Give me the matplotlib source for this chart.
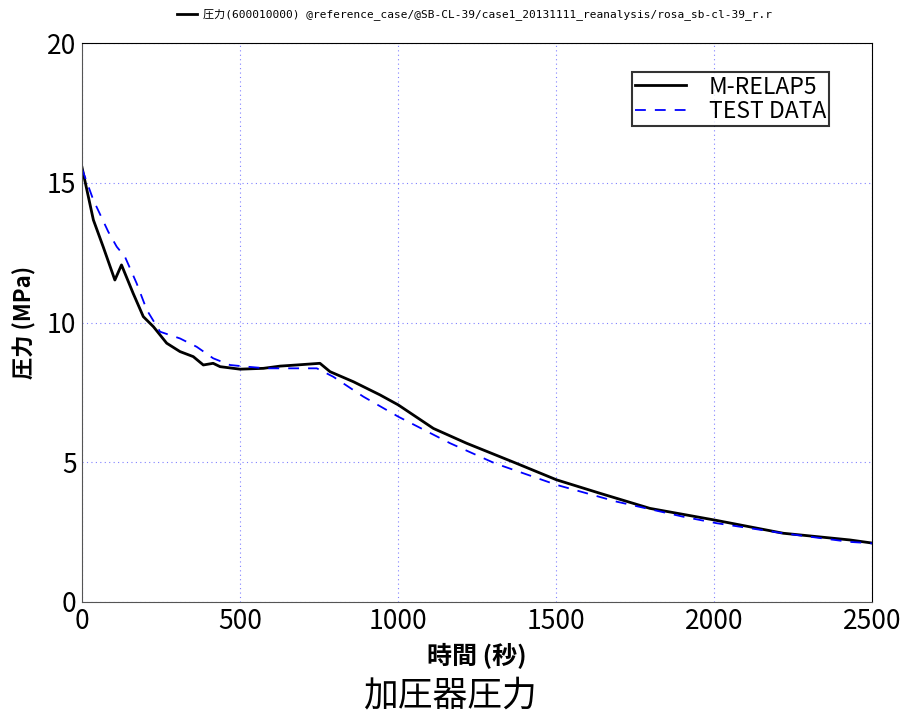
import matplotlib
matplotlib.use("Agg")
import matplotlib.pyplot as plt
from matplotlib.lines import Line2D

plt.rcParams['font.family'] = ['Liberation Sans Narrow', 'Noto Sans CJK JP', 'DejaVu Sans']

# M-RELAP5 calculation
t_calc = [0, 36, 67, 104, 125, 162, 194, 226, 268, 310, 352, 384, 415, 437, 500,
          574, 627, 679, 753, 785, 859, 943, 1001, 1112, 1217, 1375, 1502, 1639,
          1797, 2003, 2219, 2430, 2500]
p_calc = [15.55, 13.67, 12.71, 11.52, 12.06, 11.04, 10.21, 9.85, 9.26, 8.96, 8.78,
          8.48, 8.54, 8.42, 8.33, 8.36, 8.44, 8.48, 8.54, 8.24, 7.88, 7.41, 7.05,
          6.21, 5.68, 4.96, 4.37, 3.89, 3.35, 2.93, 2.46, 2.22, 2.11]

# Test data
t_test = [0, 36, 83, 110, 136, 173, 205, 247, 310, 363, 415, 468, 521, 584, 679,
          743, 795, 890, 1001, 1165, 1307, 1502, 1692, 1903, 2008, 2219, 2430, 2500]
p_test = [15.5, 14.38, 13.25, 12.71, 12.35, 11.40, 10.45, 9.67, 9.43, 9.13, 8.72,
          8.48, 8.42, 8.36, 8.36, 8.36, 8.06, 7.35, 6.63, 5.68, 4.96, 4.19, 3.59,
          3.05, 2.82, 2.46, 2.15, 2.10]

x_ticks = [0, 500, 1000, 1500, 2000, 2500]
y_ticks = [0, 5, 10, 15, 20]

fig = plt.figure(figsize=(9, 7.17), dpi=100)
ax = fig.add_axes([82/900, 1-602/717, 790/900, 559/717])

ax.plot(t_calc, p_calc, color='black', lw=2.0, label='M-RELAP5')
ax.plot(t_test, p_test, color='blue', lw=1.3, ls=(0, (6, 5)), label='TEST DATA')

ax.set_xlim(0, 2500)
ax.set_ylim(0, 20)
ax.set_xticks(x_ticks)
ax.set_yticks(y_ticks)
ax.tick_params(labelsize=19, length=0, pad=4)
ax.grid(True, color='#8080ff', ls=(0, (1, 3)), lw=0.8)
for s in ['left', 'bottom']:
    ax.spines[s].set_color('#555555')

leg = ax.legend(loc='upper right', bbox_to_anchor=(0.946, 0.948), fontsize=16.5,
                frameon=True, fancybox=False, shadow=False, handlelength=2.2,
                borderpad=0.15, labelspacing=0.05, handletextpad=1.0,
                borderaxespad=0)
leg.get_frame().set_edgecolor('black')
leg.get_frame().set_linewidth(1.5)

ax.set_xlabel('時間 (秒)', fontsize=18, fontweight='bold',
              family=['Noto Sans CJK JP', 'DejaVu Sans'], labelpad=6)
ax.set_ylabel('圧力 (MPa)', fontsize=16, fontweight='bold',
              family=['Noto Sans CJK JP', 'DejaVu Sans'], labelpad=8)

fig.text(0.5, 1-696/717, '加圧器圧力', ha='center', va='center', fontsize=25,
         family=['Noto Sans CJK JP', 'DejaVu Sans'])

fig.add_artist(Line2D([177/900, 197/900], [1-14/717, 1-14/717], color='black', lw=2))
fig.text(203/900, 1-14/717,
         '圧力(600010000) @reference_case/@SB-CL-39/case1_20131111_reanalysis/rosa_sb-cl-39_r.r',
         ha='left', va='center', fontsize=8,
         family=['DejaVu Sans Mono', 'Noto Sans CJK JP'])

fig.savefig('out.png', dpi=100)
